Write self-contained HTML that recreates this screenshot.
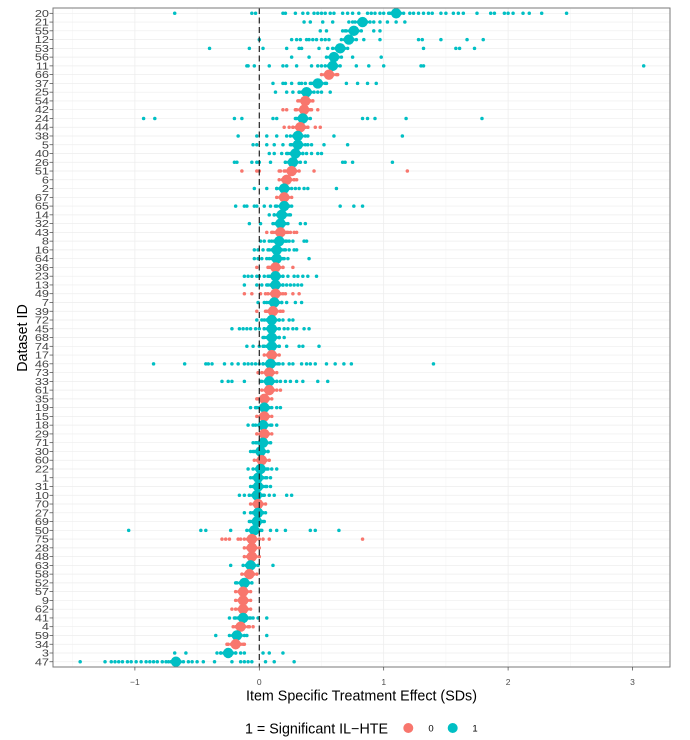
<!DOCTYPE html>
<html><head><meta charset="utf-8"><style>
html,body{margin:0;padding:0;background:#fff;}
svg{display:block;font-family:"Liberation Sans",Arial,sans-serif;}
.yl{font-size:9.8px;fill:#444;text-anchor:end;}
.xl{font-size:8.5px;fill:#4D4D4D;text-anchor:middle;}
</style></head><body>
<svg id="s" width="690" height="740" viewBox="0 0 690 740" xmlns="http://www.w3.org/2000/svg">
<rect x="0" y="0" width="690" height="740" fill="#fff"/>
<rect x="53" y="8" width="617" height="659" fill="#fff"/>
<g id="grid"></g>
<g id="dots"></g>
<line x1="259.3" y1="8" x2="259.3" y2="667" stroke="#222" stroke-width="1.2" stroke-dasharray="6,3.5"/>
<rect x="53" y="8" width="617" height="659" fill="none" stroke="#7a7a7a" stroke-width="1"/>
<g id="ticks" stroke="#444" stroke-width="0.7"></g>
<g transform="translate(49,0) scale(1.3,1) translate(-49,0)">
<text class="yl" x="49" y="13.3" dy=".36em">20</text>
<text class="yl" x="49" y="22.06" dy=".36em">21</text>
<text class="yl" x="49" y="30.83" dy=".36em">55</text>
<text class="yl" x="49" y="39.59" dy=".36em">12</text>
<text class="yl" x="49" y="48.35" dy=".36em">53</text>
<text class="yl" x="49" y="57.12" dy=".36em">56</text>
<text class="yl" x="49" y="65.88" dy=".36em">11</text>
<text class="yl" x="49" y="74.64" dy=".36em">66</text>
<text class="yl" x="49" y="83.40" dy=".36em">37</text>
<text class="yl" x="49" y="92.17" dy=".36em">25</text>
<text class="yl" x="49" y="100.93" dy=".36em">54</text>
<text class="yl" x="49" y="109.69" dy=".36em">42</text>
<text class="yl" x="49" y="118.46" dy=".36em">24</text>
<text class="yl" x="49" y="127.22" dy=".36em">44</text>
<text class="yl" x="49" y="135.98" dy=".36em">38</text>
<text class="yl" x="49" y="144.75" dy=".36em">5</text>
<text class="yl" x="49" y="153.51" dy=".36em">40</text>
<text class="yl" x="49" y="162.27" dy=".36em">26</text>
<text class="yl" x="49" y="171.03" dy=".36em">51</text>
<text class="yl" x="49" y="179.80" dy=".36em">6</text>
<text class="yl" x="49" y="188.56" dy=".36em">2</text>
<text class="yl" x="49" y="197.32" dy=".36em">67</text>
<text class="yl" x="49" y="206.09" dy=".36em">65</text>
<text class="yl" x="49" y="214.85" dy=".36em">14</text>
<text class="yl" x="49" y="223.61" dy=".36em">32</text>
<text class="yl" x="49" y="232.38" dy=".36em">43</text>
<text class="yl" x="49" y="241.14" dy=".36em">8</text>
<text class="yl" x="49" y="249.90" dy=".36em">16</text>
<text class="yl" x="49" y="258.66" dy=".36em">64</text>
<text class="yl" x="49" y="267.43" dy=".36em">36</text>
<text class="yl" x="49" y="276.19" dy=".36em">23</text>
<text class="yl" x="49" y="284.95" dy=".36em">13</text>
<text class="yl" x="49" y="293.72" dy=".36em">49</text>
<text class="yl" x="49" y="302.48" dy=".36em">7</text>
<text class="yl" x="49" y="311.24" dy=".36em">39</text>
<text class="yl" x="49" y="320.01" dy=".36em">72</text>
<text class="yl" x="49" y="328.77" dy=".36em">45</text>
<text class="yl" x="49" y="337.53" dy=".36em">68</text>
<text class="yl" x="49" y="346.29" dy=".36em">74</text>
<text class="yl" x="49" y="355.06" dy=".36em">17</text>
<text class="yl" x="49" y="363.82" dy=".36em">46</text>
<text class="yl" x="49" y="372.58" dy=".36em">73</text>
<text class="yl" x="49" y="381.35" dy=".36em">33</text>
<text class="yl" x="49" y="390.11" dy=".36em">61</text>
<text class="yl" x="49" y="398.87" dy=".36em">35</text>
<text class="yl" x="49" y="407.64" dy=".36em">19</text>
<text class="yl" x="49" y="416.40" dy=".36em">15</text>
<text class="yl" x="49" y="425.16" dy=".36em">18</text>
<text class="yl" x="49" y="433.92" dy=".36em">29</text>
<text class="yl" x="49" y="442.69" dy=".36em">71</text>
<text class="yl" x="49" y="451.45" dy=".36em">30</text>
<text class="yl" x="49" y="460.21" dy=".36em">60</text>
<text class="yl" x="49" y="468.98" dy=".36em">22</text>
<text class="yl" x="49" y="477.74" dy=".36em">1</text>
<text class="yl" x="49" y="486.50" dy=".36em">31</text>
<text class="yl" x="49" y="495.27" dy=".36em">10</text>
<text class="yl" x="49" y="504.03" dy=".36em">70</text>
<text class="yl" x="49" y="512.79" dy=".36em">27</text>
<text class="yl" x="49" y="521.55" dy=".36em">69</text>
<text class="yl" x="49" y="530.32" dy=".36em">50</text>
<text class="yl" x="49" y="539.08" dy=".36em">75</text>
<text class="yl" x="49" y="547.84" dy=".36em">28</text>
<text class="yl" x="49" y="556.61" dy=".36em">48</text>
<text class="yl" x="49" y="565.37" dy=".36em">63</text>
<text class="yl" x="49" y="574.13" dy=".36em">58</text>
<text class="yl" x="49" y="582.90" dy=".36em">52</text>
<text class="yl" x="49" y="591.66" dy=".36em">57</text>
<text class="yl" x="49" y="600.42" dy=".36em">9</text>
<text class="yl" x="49" y="609.18" dy=".36em">62</text>
<text class="yl" x="49" y="617.95" dy=".36em">41</text>
<text class="yl" x="49" y="626.71" dy=".36em">4</text>
<text class="yl" x="49" y="635.47" dy=".36em">59</text>
<text class="yl" x="49" y="644.24" dy=".36em">34</text>
<text class="yl" x="49" y="653.00" dy=".36em">3</text>
<text class="yl" x="49" y="661.76" dy=".36em">47</text>
</g>
<g>
<text class="xl" x="134.9" y="685">−1</text>
<text class="xl" x="259.3" y="685">0</text>
<text class="xl" x="383.7" y="685">1</text>
<text class="xl" x="508.1" y="685">2</text>
<text class="xl" x="632.5" y="685">3</text>
</g>
<text x="361.5" y="700.5" font-size="14.3" fill="#000" text-anchor="middle">Item Specific Treatment Effect (SDs)</text>
<text transform="translate(27,338) rotate(-90)" font-size="14.3" fill="#000" text-anchor="middle">Dataset ID</text>
<text x="245" y="733.5" font-size="14.3" fill="#000">1 = Significant IL−HTE</text>
<circle cx="408.3" cy="728" r="5" fill="#F8766D"/>
<text x="431" y="731.5" font-size="9.5" fill="#000" text-anchor="middle">0</text>
<circle cx="452.7" cy="728" r="5" fill="#00BFC4"/>
<text x="475" y="731.5" font-size="9.5" fill="#000" text-anchor="middle">1</text>
</svg>
<script>
(function(){
var NS="http://www.w3.org/2000/svg";
function X(v){return 259.3+124.4*v;}
function Y(i){return 13.3+8.763*i;}
var C=["#F8766D","#00BFC4"];
var rows=[
[1.10,1,[-0.68,-0.06,-0.03,0.19,0.21,0.29,0.35,0.39,0.44,0.47,0.50,0.53,0.57,0.60,0.67,0.71,0.75,0.80,0.87,0.90,0.93,0.97,1.0,1.05,1.21,1.24,1.28,1.32,1.36,1.39,1.46,1.50,1.56,1.60,1.64,1.75,1.86,1.89,1.97,2.0,2.04,2.12,2.17,2.27,2.47]],
[0.83,1,[0.36,0.41,0.51,0.59,0.72,0.75,0.83,0.92,0.97,1.03,1.10,1.17]],
[0.76,1,[0.49,0.54,0.67,0.69,0.92,0.97]],
[0.72,1,[0.0,0.26,0.30,0.33,0.38,0.40,0.43,0.46,0.50,0.53,0.56,0.84,0.97,1.28,1.31,1.46,1.67,1.80]],
[0.65,1,[-0.40,-0.08,0.03,0.22,0.32,0.34,0.48,0.55,0.62,1.32,1.58,1.61,1.73]],
[0.60,1,[0.26,0.40,0.75,0.98]],
[0.59,1,[-0.10,-0.09,-0.04,0.08,0.19,0.22,0.30,0.42,0.47,0.50,0.62,0.78,0.88,1.0,1.30,1.32,3.09]],
[0.56,0,[0.63]],
[0.47,1,[0.11,0.19,0.21,0.26,0.32,0.34,0.37,0.42,0.54,0.70,0.79,0.87,0.94]],
[0.38,1,[0.13,0.22,0.27,0.32,0.34,0.47,0.50,0.57]],
[0.37,0,[0.32,0.35,0.39,0.41,0.43]],
[0.36,0,[0.19,0.22,0.29,0.34,0.41,0.47]],
[0.35,1,[-0.93,-0.84,-0.20,-0.14,0.11,0.14,0.30,0.83,0.87,0.93,1.18,1.79]],
[0.33,0,[0.20,0.24,0.27,0.37,0.39,0.45,0.49]],
[0.31,1,[-0.17,-0.02,0.06,0.14,0.22,0.29,0.34,0.39,0.60,1.15]],
[0.31,1,[-0.05,-0.02,0.06,0.12,0.19,0.26,0.39,0.42,0.52,0.71]],
[0.29,1,[0.08,0.12,0.18,0.22,0.25,0.35,0.38,0.42,0.47,0.50]],
[0.27,1,[-0.20,-0.18,-0.06,-0.02,0.0,0.09,0.21,0.37,0.67,0.69,0.75,1.07]],
[0.26,0,[-0.14,-0.02,0.0,0.16,0.17,0.21,0.44,1.19]],
[0.22,0,[0.19,0.24,0.28,0.30]],
[0.20,1,[-0.04,0.06,0.14,0.17,0.20,0.29,0.32,0.36,0.39,0.62]],
[0.20,0,[0.17,0.23]],
[0.20,1,[-0.19,-0.12,-0.10,-0.04,-0.02,0.04,0.09,0.13,0.17,0.22,0.24,0.65,0.76,0.83]],
[0.18,1,[0.08,0.12,0.16,0.22,0.25]],
[0.17,1,[-0.08,0.01,0.13,0.15,0.19,0.21,0.33,0.37]],
[0.17,0,[0.06,0.10,0.13,0.15,0.20,0.22,0.25,0.28,0.30]],
[0.16,1,[0.01,0.04,0.08,0.12,0.18,0.21,0.24,0.27,0.36,0.38]],
[0.14,1,[-0.04,-0.01,0.03,0.07,0.10,0.18,0.21,0.24,0.28,0.30]],
[0.14,1,[-0.04,-0.01,0.02,0.06,0.10,0.16,0.19,0.23,0.40]],
[0.13,0,[-0.02,0.08,0.11,0.16,0.19,0.27]],
[0.13,1,[-0.12,-0.09,-0.06,-0.02,0.0,0.04,0.08,0.16,0.19,0.23,0.28,0.31,0.35,0.39,0.46]],
[0.13,1,[-0.12,-0.02,0.02,0.06,0.09,0.16,0.19,0.22,0.25,0.28,0.31,0.34]],
[0.13,0,[-0.12,-0.06,0.01,0.05,0.10,0.17,0.21,0.27,0.32]],
[0.12,1,[-0.01,0.04,0.08,0.15,0.18,0.22,0.29,0.34]],
[0.11,0,[-0.02,0.06,0.09,0.14,0.17,0.19]],
[0.10,1,[-0.02,0.02,0.06,0.13,0.16,0.19,0.24,0.27]],
[0.10,1,[-0.22,-0.16,-0.13,-0.10,-0.07,-0.03,0.0,0.04,0.07,0.13,0.16,0.20,0.23,0.27,0.30,0.36,0.40]],
[0.10,1,[0.03,0.06,0.13,0.16,0.20]],
[0.10,1,[-0.10,-0.05,0.0,0.03,0.06,0.13,0.16,0.22,0.32,0.35,0.48]],
[0.10,0,[0.08,0.12]],
[0.09,1,[-0.85,-0.60,-0.43,-0.41,-0.38,-0.28,-0.22,-0.17,-0.12,-0.09,-0.06,-0.03,0.0,0.03,0.06,0.13,0.16,0.19,0.24,0.27,0.34,0.38,0.41,0.45,0.54,0.61,0.68,0.74,1.40]],
[0.08,0,[-0.01,0.05,0.11]],
[0.08,1,[-0.30,-0.25,-0.22,-0.12,0.01,0.05,0.11,0.14,0.17,0.21,0.25,0.30,0.35,0.47,0.55]],
[0.08,0,[0.05,0.17]],
[0.04,0,[-0.01,0.02,0.07]],
[0.04,1,[-0.07,-0.03,0.0,0.08,0.14,0.17]],
[0.04,0,[0.02,0.06]],
[0.03,1,[-0.09,-0.05,0.0,0.06,0.10,0.14]],
[0.04,0,[]],
[0.03,1,[-0.05,-0.02,0.0,0.06,0.09]],
[0.01,1,[-0.07,-0.04,0.0,0.04,0.07]],
[0.02,0,[]],
[0.01,1,[-0.09,-0.02,0.03,0.06,0.10,0.14]],
[-0.01,1,[-0.05,-0.02,0.03,0.06,0.09]],
[-0.01,1,[-0.05,-0.02,0.03,0.06,0.09]],
[-0.02,1,[-0.16,-0.12,-0.08,-0.05,0.0,0.03,0.08,0.12,0.22,0.26]],
[-0.01,0,[]],
[-0.01,1,[-0.12,-0.05,0.0,0.03]],
[-0.02,1,[-0.07,-0.04,0.0,0.03]],
[-0.04,1,[-1.05,-0.47,-0.43,-0.23,0.01,0.09,0.14,0.21,0.41,0.45,0.64]],
[-0.06,0,[-0.30,-0.27,-0.24,-0.17,-0.15,-0.08,-0.04,0.03,0.08,0.83]],
[-0.06,0,[-0.08,-0.04]],
[-0.06,0,[]],
[-0.07,1,[-0.23,0.11]],
[-0.08,0,[-0.10,-0.06]],
[-0.12,1,[-0.19,-0.09,-0.06]],
[-0.13,0,[]],
[-0.13,0,[-0.16,-0.10]],
[-0.13,0,[-0.22]],
[-0.13,1,[-0.24,-0.20,-0.17,-0.08,-0.05,-0.01,0.06]],
[-0.15,0,[-0.19,-0.12,-0.08,-0.05]],
[-0.18,1,[-0.35,-0.10,0.06]],
[-0.19,0,[-0.26,-0.22,-0.15,-0.12]],
[-0.25,1,[-0.68,-0.59,-0.34,-0.31,-0.28,-0.19,-0.15,-0.12,0.03,0.08,0.19]],
[-0.67,1,[-1.44,-1.24,-1.19,-1.16,-1.13,-1.10,-1.06,-1.03,-0.99,-0.95,-0.91,-0.88,-0.85,-0.82,-0.78,-0.75,-0.71,-0.57,-0.54,-0.50,-0.45,-0.36,-0.22,-0.15,-0.12,-0.09,-0.06,0.05,0.12,0.28]]
];
var g=document.getElementById("grid"),d=document.getElementById("dots"),t=document.getElementById("ticks");
function ln(p,x1,y1,x2,y2,c,w){var l=document.createElementNS(NS,"line");l.setAttribute("x1",x1);l.setAttribute("y1",y1);l.setAttribute("x2",x2);l.setAttribute("y2",y2);if(c)l.setAttribute("stroke",c);if(w)l.setAttribute("stroke-width",w);p.appendChild(l);}
function ci(x,y,r,c){var e=document.createElementNS(NS,"circle");e.setAttribute("cx",x.toFixed(2));e.setAttribute("cy",y.toFixed(2));e.setAttribute("r",r);e.setAttribute("fill",c);d.appendChild(e);}
[-1.5,-0.5,0.5,1.5,2.5].forEach(function(v){ln(g,X(v),8,X(v),667,"#F5F5F5",0.6);});
[-1,0,1,2,3].forEach(function(v){ln(g,X(v),8,X(v),667,"#EBEBEB",0.7);ln(t,X(v),667,X(v),670.5);});
for(var i=0;i<75;i++){ln(g,53,Y(i),670,Y(i),"#EDEDED",0.7);ln(t,49.5,Y(i),53,Y(i));}
rows.forEach(function(r,i){var c=C[r[1]],y=Y(i);
 r[2].forEach(function(v){ci(X(v),y,1.75,c);});
 [-0.06,-0.035,0.035,0.06].forEach(function(o){ci(X(r[0]+o),y,1.75,c);});
});
rows.forEach(function(r,i){ci(X(r[0]),Y(i),5.2,C[r[1]]);});
})();
</script>
</body></html>
